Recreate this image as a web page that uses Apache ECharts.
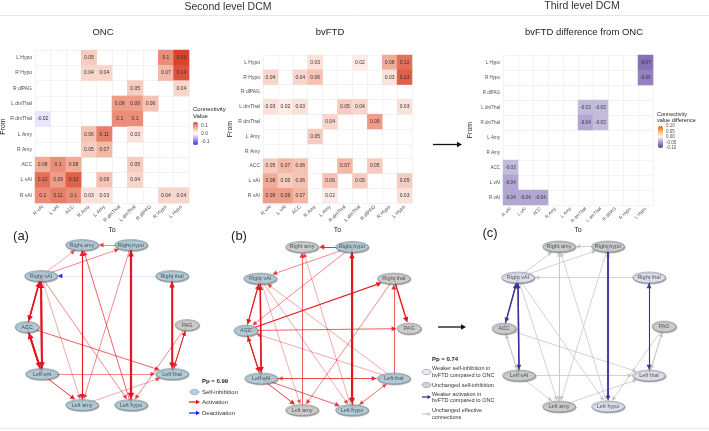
<!DOCTYPE html>
<html><head><meta charset="utf-8">
<script src="https://cdn.jsdelivr.net/npm/echarts@6/dist/echarts.min.js"></script>
<style>html,body{margin:0;padding:0;background:#fff}#c{width:709px;height:431px}</style>
</head><body><div id="c"></div>
<script>
// ---------- DATA ----------
const regions = ['R vAI','L vAI','ACC','R Amy','L Amy','R dmThal','L dmThal','R dlPAG','R Hypo','L Hypo'];

// [From, To, value]
const oncValues = [
 ['L Hypo','R Amy',0.05],['L Hypo','R Hypo',0.1],['L Hypo','L Hypo',0.16],
 ['R Hypo','R Amy',0.04],['R Hypo','L Amy',0.04],['R Hypo','R Hypo',0.07],['R Hypo','L Hypo',0.14],
 ['R dlPAG','L dmThal',0.05],['R dlPAG','L Hypo',0.04],
 ['L dmThal','R dmThal',0.09],['L dmThal','L dmThal',0.09],['L dmThal','R dlPAG',0.06],
 ['R dmThal','R vAI',-0.02],['R dmThal','R dmThal',0.1],['R dmThal','L dmThal',0.1],
 ['L Amy','R Amy',0.06],['L Amy','L Amy',0.11],['L Amy','L dmThal',0.03],
 ['R Amy','R Amy',0.05],['R Amy','L Amy',0.07],
 ['ACC','R vAI',0.08],['ACC','L vAI',0.1],['ACC','ACC',0.08],['ACC','L dmThal',0.05],
 ['L vAI','R vAI',0.12],['L vAI','L vAI',0.09],['L vAI','ACC',0.13],['L vAI','L Amy',0.06],['L vAI','L dmThal',0.04],
 ['R vAI','R vAI',0.1],['R vAI','L vAI',0.11],['R vAI','ACC',0.1],['R vAI','R Amy',0.03],['R vAI','L Amy',0.03],['R vAI','R Hypo',0.04],['R vAI','L Hypo',0.04]
];
const bvftdValues = [
 ['L Hypo','R Amy',0.03],['L Hypo','L dmThal',0.02],['L Hypo','R Hypo',0.08],['L Hypo','L Hypo',0.12],
 ['R Hypo','R vAI',0.04],['R Hypo','ACC',0.04],['R Hypo','R Amy',0.06],['R Hypo','R Hypo',0.03],['R Hypo','L Hypo',0.13],
 ['L dmThal','R vAI',0.03],['L dmThal','L vAI',0.02],['L dmThal','ACC',0.03],['L dmThal','R dmThal',0.05],['L dmThal','L dmThal',0.04],['L dmThal','L Hypo',0.03],
 ['R dmThal','L Amy',0.04],['R dmThal','R dlPAG',0.09],
 ['L Amy','R Amy',0.05],
 ['ACC','R vAI',0.05],['ACC','L vAI',0.07],['ACC','ACC',0.06],['ACC','R dmThal',0.07],['ACC','R dlPAG',0.05],
 ['L vAI','R vAI',0.08],['L vAI','L vAI',0.05],['L vAI','ACC',0.06],['L vAI','L Amy',0.06],['L vAI','L dmThal',0.05],['L vAI','L Hypo',0.05],
 ['R vAI','R vAI',0.09],['R vAI','L vAI',0.09],['R vAI','ACC',0.07],['R vAI','L Amy',0.02],['R vAI','L Hypo',0.03]
];
const diffValues = [
 ['L Hypo','L Hypo',-0.07],
 ['R Hypo','L Hypo',-0.06],
 ['L dmThal','R dmThal',-0.03],['L dmThal','L dmThal',-0.03],
 ['R dmThal','R dmThal',-0.04],['R dmThal','L dmThal',-0.03],
 ['ACC','R vAI',-0.03],
 ['L vAI','R vAI',-0.04],
 ['R vAI','R vAI',-0.04],['R vAI','L vAI',-0.04],['R vAI','ACC',-0.04]
];
const oncScaleTicks = [0.1, 0, -0.1];
const diffScaleTicks = [0.1, 0.05, 0, -0.05, -0.1];

// network nodes (names, matching region, layout position)
const nodeNames   = ['Right amy','Right hypo','Right vAI','Right thal','ACC','PAG','Left vAI','Left thal','Left amy','Left hypo'];
const nodeRegions = ['R Amy','R Hypo','R vAI','R dmThal','ACC','R dlPAG','L vAI','L dmThal','L Amy','L Hypo'];
const nodeLayoutX = [-25, 24, -66, 65, -80, 80, -65, 65, -25, 24];
const nodeLayoutY = [80, 80, 49, 49, -2, 0, -49, -49, -80, -80];

// ---------- STYLE ----------
const FONT = 'Liberation Sans';
const nodeW = n => (n === 'ACC' || n === 'PAG') ? 24 : 33;
const nodeH = 11;
const ELLIPSE = 'path://M0 10 A20 10 0 1 1 40 10 A20 10 0 1 1 0 10 Z';
const BLUE_NODE = '#b0d2e0', GRAY_NODE = '#d2d2d2', LAV_NODE = '#e9e7f8';

const grids = [
  {left:35, top:50, width:154, height:153},
  {left:263, top:55, width:149, height:148},
  {left:503, top:55, width:150, height:150},
  {left:7, top:225, width:200, height:200},
  {left:225.5, top:226.5, width:204, height:204},
  {left:484, top:226.5, width:200, height:200},
  {left:193, top:122, width:5, height:23},
  {left:658, top:126, width:5, height:22}
].map(g => Object.assign({outerBoundsMode:'none', containLabel:false}, g));

const xAxes = [], yAxes = [];
[0,1,2].forEach(i => {
  const fs = i === 2 ? 4.5 : 5;
  const common = {type:'category', gridIndex:i, data:regions, axisLine:{show:false}, axisTick:{show:false},
    splitLine:{show:true, lineStyle:{color:'#ebebeb', width:0.6}},
    nameTextStyle:{fontSize:7, color:'#222', fontFamily:FONT}};
  xAxes.push(Object.assign({}, common, {name:'To', nameLocation:'middle', nameGap: i===2?21:22,
    axisLabel:{rotate:45, fontSize:fs, margin:3, color:'#4d4d4d', fontFamily:FONT, interval:0}}));
  yAxes.push(Object.assign({}, common, {name:'From', nameLocation:'middle', nameRotate:90, nameGap: i===0?28:29,
    axisLabel:{fontSize:fs, margin:3, color:'#4d4d4d', fontFamily:FONT, interval:0}}));
});
[3,4,5].forEach(i => {
  xAxes.push({type:'value', gridIndex:i, min:-100, max:100, show:false});
  yAxes.push({type:'value', gridIndex:i, min:-100, max:100, show:false});
});
// colour bar tick axes
xAxes.push({type:'value', gridIndex:6, show:false});
yAxes.push({type:'value', gridIndex:6, min:-0.15, max:0.15, interval:0.05, position:'right',
  axisLine:{show:false}, axisTick:{show:false}, splitLine:{show:false},
  axisLabel:{fontSize:5, margin:3, color:'#4d4d4d', fontFamily:FONT,
    formatter: v => oncScaleTicks.some(t => Math.abs(t - v) < 1e-6) ? v.toFixed(1) : ''}});
xAxes.push({type:'value', gridIndex:7, show:false});
yAxes.push({type:'value', gridIndex:7, min:-0.1, max:0.1, interval:0.05, position:'right',
  axisLine:{show:false}, axisTick:{show:false}, splitLine:{show:false},
  axisLabel:{fontSize:4.5, margin:3, color:'#4d4d4d', fontFamily:FONT,
    formatter: v => diffScaleTicks.some(t => Math.abs(t - v) < 1e-6) ? v.toFixed(2) : ''}});

function heat(values, gi, fs) {
  return {type:'heatmap', xAxisIndex:gi, yAxisIndex:gi, silent:true, progressive:0,
    data: values.map(([f,t,v]) => [regions.indexOf(t), regions.indexOf(f), v]),
    label:{show:true, fontSize:fs, color:'#333', fontFamily:FONT, formatter: p => String(p.value[2])},
    itemStyle:{borderWidth:0}, emphasis:{disabled:true}};
}

const pos = {};
nodeNames.forEach((n,i) => pos[n] = [nodeLayoutX[i], nodeLayoutY[i]]);
const regionNode = {};
nodeRegions.forEach((r,i) => regionNode[r] = nodeNames[i]);

function edgeEnds(fromR, toR, size) {
  const a = pos[regionNode[fromR]], bNode = regionNode[toR], b = pos[bNode];
  const dx = b[0]-a[0], dy = b[1]-a[1], len = Math.hypot(dx, dy);
  const rx = nodeW(bNode)/2 + 0.3, ry = nodeH/2 + 0.3;
  const t = 1/Math.sqrt((dx/rx)**2 + (dy/ry)**2);
  const bx = b[0] - t*dx - dx/len*size/2, by = b[1] - t*dy - dy/len*size/2;
  return {a, end:[bx, by], ux:dx/len, uy:dy/len};
}
function edgeItems(fromR, toR, style) {
  const e = edgeEnds(fromR, toR, style.size);
  if (style.faintLine) {
    // faint line body, solid arrow head
    return [
      {coords:[e.a, e.end], symbol:['none','none'], lineStyle:{color:style.color, width:style.width, opacity:0.18}},
      {coords:[[e.end[0]-e.ux*0.5, e.end[1]-e.uy*0.5], e.end], symbolSize:style.size,
        lineStyle:{color:style.color, width:0.5, opacity:1}}
    ];
  }
  return [{coords:[e.a, e.end], symbolSize:style.size,
    lineStyle:{color:style.color, width:style.width, opacity:style.opacity}}];
}
function edgeSeries(items, gi, z) {
  return {type:'lines', coordinateSystem:'cartesian2d', xAxisIndex:gi, yAxisIndex:gi, silent:true, z:z||2,
    symbol:['none','triangle'], data: items};
}
function netStyle(v) {
  if (v < 0) return {color:'#1f1fff', width:0.7, size:4.5, faintLine:true};
  return {color:'#e3161c', width:Math.max(0.5, v*16), opacity:Math.min(1, 0.6 + v*5), size:4 + v*18};
}
function redEdges(values, gi) {
  return edgeSeries(values.filter(d => d[0] !== d[1]).flatMap(([f,t,v]) => edgeItems(f, t, netStyle(v))), gi);
}
function nodeSeries(gi, colorOf) {
  return {type:'scatter', xAxisIndex:gi, yAxisIndex:gi, silent:true, z:5, symbol:ELLIPSE,
    data: nodeNames.map((n,i) => ({name:n, value:[nodeLayoutX[i], nodeLayoutY[i]], symbolSize:[nodeW(n), nodeH],
      itemStyle:{color:colorOf(nodeRegions[i]), borderColor:'#66737a', borderWidth:0.5,
        shadowColor:'rgba(0,0,0,0.4)', shadowBlur:1, shadowOffsetX:0.8, shadowOffsetY:1}})),
    label:{show:true, position:'inside', formatter:'{b}', fontSize:5.5, color:'#333', fontFamily:FONT}};
}
const hasDiag = vals => r => vals.some(d => d[0] === r && d[1] === r);
const oncDiag = hasDiag(oncValues), bvDiag = hasDiag(bvftdValues), diffDiag = hasDiag(diffValues);
const diffKey = new Set(diffValues.filter(d => d[0] !== d[1]).map(d => d[0] + '>' + d[1]));
const cGray = oncValues.filter(d => d[0] !== d[1] && !diffKey.has(d[0] + '>' + d[1]))
  .flatMap(([f,t]) => edgeItems(f, t, {color:'#c6c6c6', width:0.8, opacity:1, size:4.5}));
const cBlue = diffValues.filter(d => d[0] !== d[1])
  .flatMap(([f,t,v]) => edgeItems(f, t, {color:'#3a2f95', width:Math.abs(v)*35, opacity:0.9, size:5}));

const series = [
  heat(oncValues, 0, 5),
  heat(bvftdValues, 1, 5),
  heat(diffValues, 2, 4.5),
  redEdges(oncValues, 3),
  nodeSeries(3, r => oncDiag(r) ? BLUE_NODE : GRAY_NODE),
  redEdges(bvftdValues, 4),
  nodeSeries(4, r => bvDiag(r) ? BLUE_NODE : GRAY_NODE),
  edgeSeries(cGray, 5, 2),
  edgeSeries(cBlue, 5, 3),
  nodeSeries(5, r => diffDiag(r) ? LAV_NODE : GRAY_NODE)
];

// ---------- GRAPHIC (titles, legends) ----------
function T(text, x, y, size, o) {
  o = o || {};
  const al = o.align || 'left';
  return {type:'text', x, y, silent:true, z:20, style:{text, fontSize:size, fontFamily:FONT, fill:o.fill || '#222',
    fontWeight:o.bold ? 'bold' : 'normal', align:al, textAlign:al, verticalAlign:'middle', textVerticalAlign:'middle'}};
}
function arrowIcon(x1, x2, y, color, w, head) {
  return [
    {type:'line', silent:true, z:20, shape:{x1, y1:y, x2:x2-head, y2:y}, style:{stroke:color, lineWidth:w}},
    {type:'polygon', silent:true, z:20, shape:{points:[[x2,y],[x2-head,y-head*0.55],[x2-head,y+head*0.55]]}, style:{fill:color}}
  ];
}
function ellipseIcon(cx, cy, fill) {
  return {type:'ellipse', silent:true, z:20, shape:{cx, cy, rx:4.5, ry:2.6}, style:{fill, stroke:'#777', lineWidth:0.5}};
}
const graphic = [
  {type:'line', silent:true, shape:{x1:0, y1:15.5, x2:709, y2:15.5}, style:{stroke:'#e6e6e6', lineWidth:1}},
  {type:'line', silent:true, shape:{x1:0, y1:428.5, x2:709, y2:428.5}, style:{stroke:'#e6e6e6', lineWidth:1}},
  T('Second level DCM', 228, 7, 10.5, {align:'center', fill:'#333'}),
  T('Third level DCM', 582, 6.5, 10.5, {align:'center', fill:'#333'}),
  T('ONC', 103, 32, 9.5, {align:'center'}),
  T('bvFTD', 330, 32, 9.5, {align:'center'}),
  T('bvFTD difference from ONC', 584, 32, 9.5, {align:'center'}),
  T('Connectivity', 193, 109.5, 6),
  T('Value', 193, 116.5, 6),
  T('Connectivity', 657, 114.5, 5.5),
  T('value difference', 657, 120.5, 5.5),
  T('(a)', 21, 236, 13, {align:'center'}),
  T('(b)', 239, 236, 13, {align:'center'}),
  T('(c)', 490, 233, 13, {align:'center'}),
  ...arrowIcon(433, 462, 144.5, '#111', 1.3, 5),
  ...arrowIcon(438, 466, 327, '#111', 1.3, 5),
  // legend a
  T('Pp = 0.99', 202, 381, 6, {bold:true}),
  ellipseIcon(194.5, 392, BLUE_NODE),
  T('Self-inhibition', 202, 392, 6, {fill:'#333'}),
  ...arrowIcon(189, 200, 402, '#e3161c', 1.2, 4),
  T('Activation', 202, 402, 6, {fill:'#333'}),
  ...arrowIcon(189, 200, 413, '#1f1fff', 1.2, 4),
  T('Deactivation', 202, 413, 6, {fill:'#333'}),
  // legend b/c
  T('Pp = 0.74', 432, 359.5, 6, {bold:true}),
  ellipseIcon(426.5, 372, LAV_NODE),
  T('Weaker self-inhibition in', 432, 368.3, 5.5, {fill:'#333'}),
  T('bvFTD compared to ONC', 432, 375.5, 5.5, {fill:'#333'}),
  ellipseIcon(426.5, 385, GRAY_NODE),
  T('Unchanged self-inhibition', 432, 385, 5.5, {fill:'#333'}),
  ...arrowIcon(422, 431, 397, '#2c2580', 1.2, 3.5),
  T('Weaker activation in', 432, 394, 5.5, {fill:'#333'}),
  T('bvFTD compared to ONC', 432, 400.7, 5.5, {fill:'#333'}),
  ...arrowIcon(422, 431, 414, '#c6c6c6', 1.2, 3.5),
  T('Unchanged effective', 432, 410.7, 5.5, {fill:'#333'}),
  T('connections', 432, 417.7, 5.5, {fill:'#333'})
];

const chart = echarts.init(document.getElementById('c'), null, {renderer:'canvas'});
chart.setOption({
  animation:false,
  backgroundColor:'#fff',
  textStyle:{fontFamily:FONT},
  grid:grids, xAxis:xAxes, yAxis:yAxes,
  visualMap:[
    {type:'continuous', seriesIndex:[0,1], dimension:2, min:-0.15, max:0.15, calculable:false, padding:0,
      left:193, top:122, itemWidth:5, itemHeight:23, text:null, hoverLink:false,
      inRange:{color:['#3b2cf0','#a99cf6','#ffffff','#f3b3a0','#d8432a']}},
    {type:'continuous', seriesIndex:[2], dimension:2, min:-0.1, max:0.1, calculable:false, padding:0,
      left:658, top:126, itemWidth:5, itemHeight:22, text:null, hoverLink:false,
      inRange:{color:['#5e3c99','#a093c9','#f7f7f7','#f6b97a','#e66101']}}
  ],
  series, graphic
});
</script></body></html>
